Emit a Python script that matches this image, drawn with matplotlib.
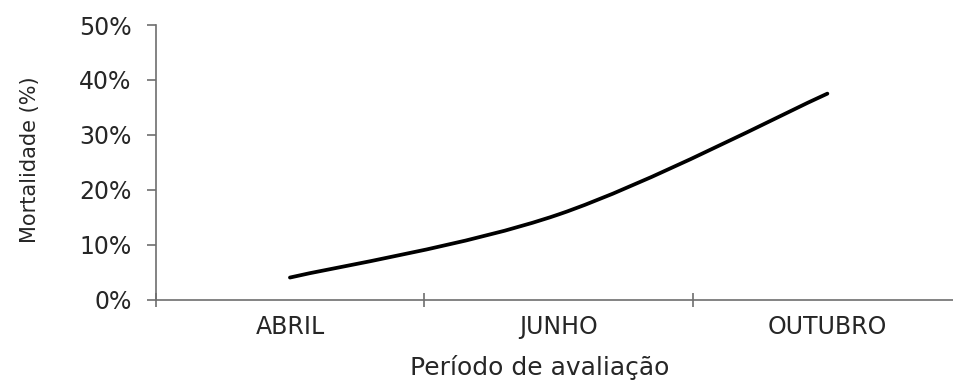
import matplotlib
matplotlib.use("Agg")
import matplotlib.pyplot as plt
from matplotlib.path import Path
from matplotlib.patches import PathPatch
from matplotlib.ticker import FuncFormatter

plt.rcParams['font.family'] = ['DejaVu Sans']

categories = ['ABRIL', 'JUNHO', 'OUTUBRO']
mortality = [4.0, 15.5, 37.5]  # %


def smooth_path(xs, ys):
    # Excel-style smoothed line: Catmull-Rom segments as cubic Bezier
    pts = list(zip(xs, ys))
    verts = [pts[0]]
    codes = [Path.MOVETO]
    for i in range(len(pts) - 1):
        p0 = pts[i - 1] if i > 0 else pts[i]
        p1 = pts[i]
        p2 = pts[i + 1]
        p3 = pts[i + 2] if i + 2 < len(pts) else pts[i + 1]
        c1 = (p1[0] + (p2[0] - p0[0]) / 6, p1[1] + (p2[1] - p0[1]) / 6)
        c2 = (p2[0] - (p3[0] - p1[0]) / 6, p2[1] - (p3[1] - p1[1]) / 6)
        verts += [c1, c2, p2]
        codes += [Path.CURVE4] * 3
    return Path(verts, codes)


fig = plt.figure(figsize=(9.54, 3.83), dpi=100)
ax = fig.add_axes([0.1631, 0.218, 0.845, 0.7167])

x = list(range(len(categories)))
ax.add_patch(PathPatch(smooth_path(x, mortality), facecolor='none',
                       edgecolor='black', lw=2.7, capstyle='round'))

ax.set_xlim(-0.5, len(categories) - 0.5)
ax.set_ylim(0, 50)
ax.set_yticks(range(0, 51, 10))
ax.yaxis.set_major_formatter(FuncFormatter(lambda v, p: f'{v:.0f}%'))

ax.set_xticks([i - 0.5 for i in range(len(categories))])
ax.set_xticklabels([])
ax.set_xticks(x, minor=True)
ax.set_xticklabels(categories, minor=True)

for s in ['top', 'right']:
    ax.spines[s].set_visible(False)
for s in ['left', 'bottom']:
    ax.spines[s].set_color('#6e6e6e')
    ax.spines[s].set_linewidth(1.2)

ax.tick_params(axis='y', direction='out', length=6.3, width=1.2, color='#6e6e6e',
               labelsize=17, labelcolor='#262626', pad=11)
ax.tick_params(axis='x', which='major', direction='inout', length=9.5, width=1.2,
               color='#6e6e6e')
ax.tick_params(axis='x', which='minor', length=0, labelsize=17,
               labelcolor='#262626', pad=11)

ax.set_ylabel('Mortalidade (%)', fontsize=15, color='#262626')
ax.yaxis.set_label_coords(-0.1434, 0.508)
ax.set_xlabel('Período de avaliação', fontsize=18, color='#262626')
ax.xaxis.label.set_va('baseline')
ax.xaxis.set_label_coords(0.477, -0.2768)

fig.savefig('out.png', dpi=100)
